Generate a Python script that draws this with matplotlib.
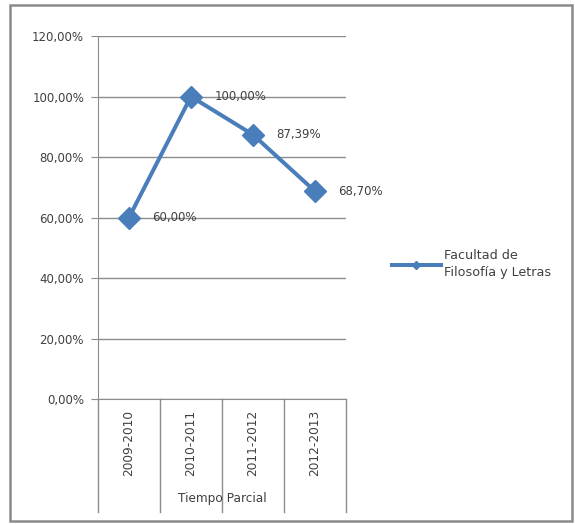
import matplotlib.pyplot as plt
from matplotlib.patches import Rectangle
from matplotlib.transforms import blended_transform_factory

categories = ["2009-2010", "2010-2011", "2011-2012", "2012-2013"]
values = [60.00, 100.00, 87.39, 68.70]
yticks = [0, 20, 40, 60, 80, 100, 120]
group_label = "Tiempo Parcial"
series_name = "Facultad de\nFilosofía y Letras"

blue = "#4A7EBB"
grid = "#8C8C8C"
txt = "#404040"

plt.rcParams['font.family'] = ['DejaVu Sans']

fig = plt.figure(figsize=(5.75, 5.24), dpi=100)
fig.patch.set_facecolor("white")
fig.add_artist(Rectangle((10 / 575, 3 / 524), 562 / 575, 516 / 524,
                         transform=fig.transFigure, fill=False,
                         edgecolor="#8A8A8A", lw=1.8))

ax = fig.add_axes([0.1704, 0.2385, 0.4313, 0.6927])
x = [i + 0.5 for i in range(len(categories))]
ax.plot(x, values, color=blue, lw=2.9, marker="D", markersize=11,
        label=series_name, zorder=3)

ax.set_xlim(0, len(categories))
ax.set_ylim(0, 120)
ax.set_yticks(yticks)
ax.set_yticklabels([("%.2f%%" % v).replace(".", ",") for v in yticks],
                   fontsize=8.5, color=txt)
ax.tick_params(axis="y", length=5, color=grid, pad=5)
ax.set_xticks([])
for s in ["top", "right"]:
    ax.spines[s].set_visible(False)
ax.spines["left"].set_color(grid)
ax.spines["bottom"].set_color(grid)
ax.yaxis.grid(True, color=grid, lw=1)
ax.set_axisbelow(True)

# data labels
for xi, v in zip(x, values):
    ax.annotate(("%.2f%%" % v).replace(".", ","), (xi, v), xytext=(17, 0),
                textcoords="offset points", va="center", ha="left",
                fontsize=8.5, color=txt)

# category separators and labels
tr = blended_transform_factory(ax.transData, ax.transAxes)
for i in range(len(categories) + 1):
    ax.plot([i, i], [0, -0.311], transform=tr, color=grid, lw=1, clip_on=False)
for xi, c in zip(x, categories):
    ax.text(xi, -0.122, c, transform=tr, rotation=90, ha="center", va="center",
            fontsize=8.7, color=txt)
ax.text(len(categories) / 2, -0.273, group_label, transform=tr, ha="center",
        va="center", fontsize=8.7, color=txt)

leg = ax.legend(loc="center left", bbox_to_anchor=(380 / 575, 1 - 264 / 524),
                bbox_transform=fig.transFigure, frameon=False, fontsize=9.2,
                handlelength=3.9, handletextpad=0.2, markerscale=0.35,
                labelcolor=txt)
for t in leg.get_texts():
    t.set_linespacing(1.45)

fig.savefig("out.png", dpi=100)
